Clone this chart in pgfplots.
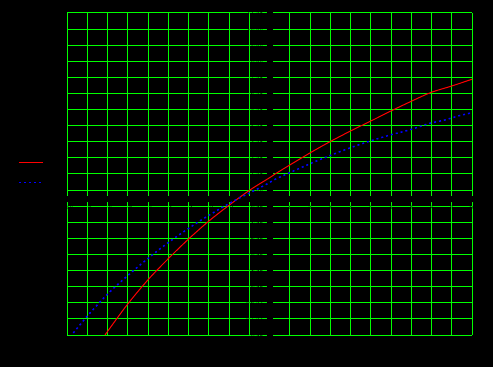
\documentclass[border=0pt]{standalone}
\usepackage{pgfplots}
\pgfplotsset{compat=1.18}
\definecolor{gridgreen}{RGB}{0,255,0}
\begin{document}
\begin{tikzpicture}
\fill[black] (0,0) rectangle (493bp,367bp);
\begin{axis}[
  at={(67bp,32bp)}, anchor=south west,
  scale only axis, width=405bp, height=322bp,
  xmin=-10, xmax=10, ymin=-8.42, ymax=11.58,
  axis lines=middle,
  axis line style={black, line width=2.5bp, -},
  xtick={-10,-9,-8,-7,-6,-5,-4,-3,-2,-1,1,2,3,4,5,6,7,8,9,10},
  xticklabels={$-10$,$-9$,$-8$,$-7$,$-6$,$-5$,$-4$,$-3$,$-2$,,$1$,$2$,$3$,$4$,$5$,$6$,$7$,$8$,$9$,$10$},
  ytick={-8.42,-7.42,-6.42,-5.42,-4.42,-3.42,-2.42,-1.42,-0.42,0.58,1.58,2.58,3.58,4.58,5.58,6.58,7.58,8.58,9.58,10.58,11.58},
  grid=major,
  major grid style={gridgreen, line width=1bp},
  tick style={black, line width=1bp},
  major tick length=6bp,
  ticklabel style={font=\tiny, text=black},
  legend image code/.code={\draw[#1] (0bp,0bp) -- (24bp,0bp);},
  legend style={at={(axis description cs:-0.121,0.505)}, anchor=west,
    draw=none, fill=black, inner sep=0pt, font=\scriptsize, text=black,
    row sep=10bp},
  legend cell align=left,
]
\addplot[red, line width=1bp, smooth] coordinates {
(-8.123,-8.416) (-7.037,-6.553) (-6.0,-4.99) (-5.012,-3.696) (-4.025,-2.491)
(-2.988,-1.335) (-1.951,-0.317) (-0.963,0.590) (0.025,1.366) (0.519,1.770)
(1.999,2.888) (3.037,3.621) (4.025,4.267) (5.111,4.938) (6.0,5.497)
(7.037,6.118) (7.975,6.646) (9.012,7.050) (10.0,7.466)
};
\addlegendentry{f(x)}
\addplot[blue, line width=1.5bp, dash pattern=on 2bp off 3bp, smooth] coordinates {
(-9.689,-8.292) (-8.948,-7.174) (-8.04,-5.932) (-7.299,-5.062) (-6.296,-3.969)
(-5.259,-2.925) (-4.272,-2.031) (-3.284,-1.211) (-2.296,-0.466) (-1.802,-0.118)
(-0.370,0.795) (0.025,1.068) (0.420,1.335) (2.0,2.217) (3.037,2.752)
(4.025,3.224) (5.012,3.646) (6.049,4.037) (6.607,4.211) (7.269,4.460)
(7.926,4.733) (8.667,4.938) (9.323,5.186) (10.015,5.391)
};
\addlegendentry{g(x)}
\end{axis}
\end{tikzpicture}
\end{document}
